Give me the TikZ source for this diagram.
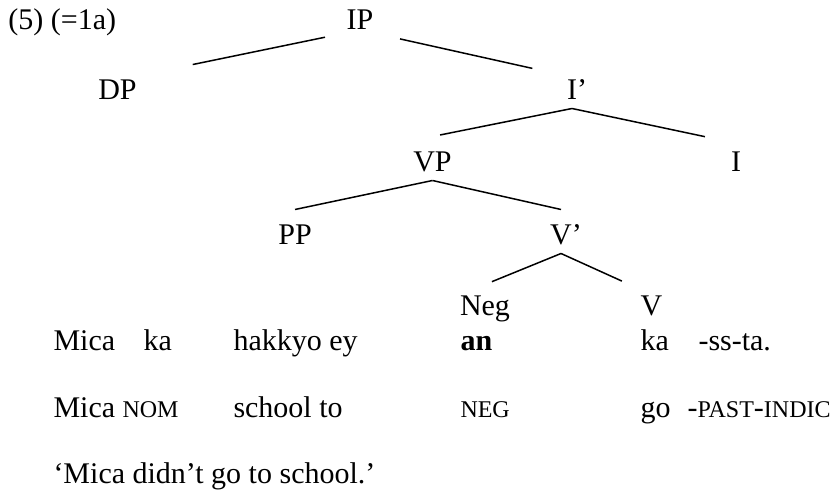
\documentclass[tikz,border=0pt]{standalone}
\usepackage{fontspec}
\setmainfont{Liberation Serif}
\tikzset{
	cat/.style={inner sep=0pt, anchor=base, text height=14pt, text depth=3.2pt},
	cattop/.style={cat, text height=9.4pt},
	word/.style={inner sep=0pt, anchor=base west},
	branch/.style={-, line width=0.6pt},
}
\newcommand{\smc}[1]{{\fontsize{9.6pt}{11pt}\selectfont #1}}

\begin{document}
\begin{tikzpicture}[
		x=0.4pt, y=-0.4pt,
		font=\fontsize{12pt}{14pt}\selectfont
	]
	\useasboundingbox (0,0) rectangle (839,492);
	\node[word] (exnum) at (8,30) {(5) (=1a)};
	\node[cat] (IP) at (360,30) {IP};
	\node[cattop] (DP) at (117.5,100) {DP};
	\node[cattop] (Ibar) at (572,100) {I\rlap{’}};
	\node[cat] (VP) at (432.5,172) {VP};
	\node[cat, text height=11.3pt] (I) at (736,172) {I};
	\node[cat] (PP) at (295,245) {PP};
	\node[cat] (Vbar) at (561,245) {V\rlap{’}};
	\node[cat, text height=12pt] (Neg) at (485,315) {Neg};
	\node[cat, text height=8pt] (V) at (651.5,315) {V};

	\draw[branch, shorten <=14.3pt, shorten >=22.7pt] (IP.base) -- (DP.north east);
	\draw[branch, shorten <=16.4pt, shorten >=14pt] (IP.base) -- (Ibar.north west);
	\draw[branch, shorten >=3.1pt] (Ibar.south) -- (VP.north);
	\draw[branch, shorten >=12.7pt] (Ibar.south) -- (I.north);
	\draw[branch] (VP.south) -- (PP.north);
	\draw[branch] (VP.south) -- (Vbar.north);
	\draw[branch, shorten >=3pt] (Vbar.south) -- (Neg.north);
	\draw[branch, shorten >=13pt] (Vbar.south) -- (V.north);

	\node[word] (mica) at (53,350) {Mica};
	\node[word] (ka) at (143,350) {ka};
	\node[word] (hakkyo) at (233,350) {hakkyo ey};
	\node[word] (an) at (460,350) {\textbf{an}};
	\node[word] (kaV) at (640,350) {ka};
	\node[word] (ssta) at (698,350) {-ss-ta.};

	\node[word] (micaG) at (53,417) {Mica};
	\node[word] (nom) at (122,417) {\smc{NOM}};
	\node[word] (school) at (233,417) {school to};
	\node[word] (negG) at (460,417) {\smc{NEG}};
	\node[word] (go) at (640,417) {go};
	\node[word] (past) at (687,417) {-\smc{PAST}-\smc{INDIC}};

	\node[word] (trans) at (53,483) {‘Mica didn’t go to school.’};
\end{tikzpicture}
\end{document}
